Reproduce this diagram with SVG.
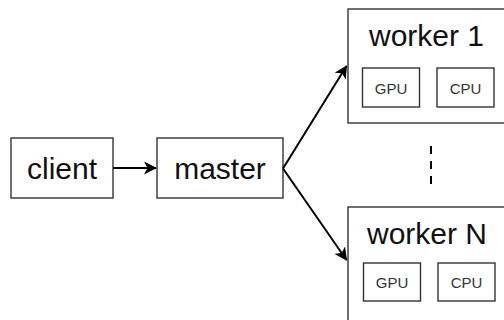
<svg xmlns="http://www.w3.org/2000/svg" width="504" height="320" viewBox="0 0 504 320">
<defs>
<style>
.box{fill:#fff;stroke:#333;stroke-width:1.4}
.big{font-family:"Liberation Sans",Arial,sans-serif;font-size:30px;fill:#111;text-anchor:middle}
.small{font-family:"Liberation Sans",Arial,sans-serif;font-size:15px;fill:#333;text-anchor:middle}
.conn{fill:none;stroke:#000;stroke-width:2}
</style>
<marker id="arr" viewBox="0 0 13 13" refX="12" refY="6.5" markerWidth="13" markerHeight="13" markerUnits="userSpaceOnUse" orient="auto">
<path d="M0,0 L13,6.5 L0,13 L3.5,6.5 Z" fill="#000"/>
</marker>
</defs>
<rect width="504" height="320" fill="#fff"/>
<g id="client">
<rect class="box" x="11" y="138" width="102" height="60"/>
<text class="big" x="62" y="179">client</text>
</g>
<g id="master">
<rect class="box" x="157" y="138" width="126" height="60"/>
<text class="big" x="220" y="179">master</text>
</g>
<g id="worker1">
<rect class="box" x="348" y="9" width="170" height="114"/>
<text class="big" x="426.5" y="46">worker 1</text>
<g id="w1gpu">
<rect class="box" x="362.5" y="68" width="57" height="39"/>
<text class="small" x="391" y="94">GPU</text>
</g>
<g id="w1cpu">
<rect class="box" x="437" y="68" width="57" height="39"/>
<text class="small" x="465.5" y="94">CPU</text>
</g>
</g>
<g id="workerN">
<rect class="box" x="348" y="207" width="170" height="130"/>
<text class="big" x="427" y="244">worker N</text>
<g id="wNgpu">
<rect class="box" x="363.5" y="263" width="57" height="38"/>
<text class="small" x="392" y="288">GPU</text>
</g>
<g id="wNcpu">
<rect class="box" x="438" y="263" width="57" height="38"/>
<text class="small" x="466.5" y="288">CPU</text>
</g>
</g>
<g id="connectors">
<line class="conn" x1="113" y1="168" x2="156" y2="168" marker-end="url(#arr)"/>
<line class="conn" x1="283" y1="168.5" x2="346.5" y2="66" marker-end="url(#arr)"/>
<line class="conn" x1="283" y1="168.5" x2="346.5" y2="260" marker-end="url(#arr)"/>
<line x1="431" y1="146" x2="431" y2="185" stroke="#000" stroke-width="2" stroke-dasharray="8,7"/>
</g>
</svg>
